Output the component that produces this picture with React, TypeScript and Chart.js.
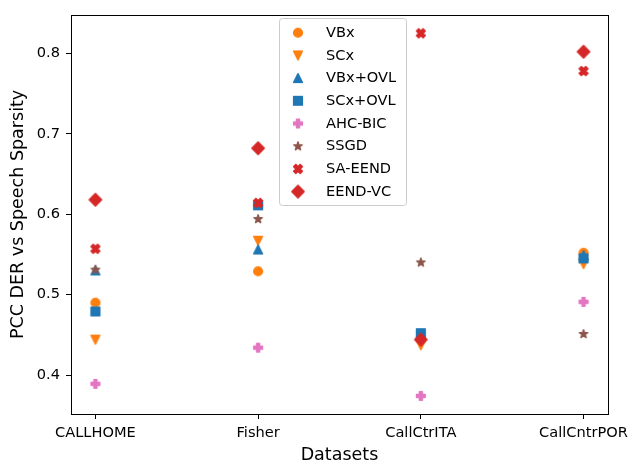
import React, { useEffect, useRef } from "react";
import { Chart, registerables } from "chart.js";

Chart.register(...registerables);

const categories = ["CALLHOME", "Fisher", "CallCtrITA", "CallCntrPOR"];
const yTicks = [0.4, 0.5, 0.6, 0.7, 0.8];

const vbx = [0.49, 0.529, 0.445, 0.552];
const scx = [0.444, 0.567, 0.437, 0.538];
const vbxOvl = [0.53, 0.556, 0.45, 0.549];
const scxOvl = [0.479, 0.611, 0.452, 0.545];
const ahcBic = [0.389, 0.434, 0.374, 0.491];
const ssgd = [0.531, 0.594, 0.54, 0.451];
const saEend = [0.557, 0.614, 0.825, 0.778];
const eendVc = [0.618, 0.682, 0.444, 0.802];

const seriesNames = ["VBx", "SCx", "VBx+OVL", "SCx+OVL", "AHC-BIC", "SSGD", "SA-EEND", "EEND-VC"];
const seriesValues = [vbx, scx, vbxOvl, scxOvl, ahcBic, ssgd, saEend, eendVc];
const seriesColors = ["#ff7f0e", "#ff7f0e", "#1f77b4", "#1f77b4", "#e377c2", "#8c564b", "#d62728", "#d62728"];
const seriesShapes = ["circle", "triDown", "triUp", "square", "plus", "star", "x", "diamond"];

const FONT = "'DejaVu Sans', sans-serif";

function makeMarker(shape: string, color: string): HTMLCanvasElement {
  const size = 20;
  const c = document.createElement("canvas");
  c.width = size;
  c.height = size;
  const ctx = c.getContext("2d")!;
  ctx.translate(size / 2, size / 2);
  const S = 8.75;
  ctx.beginPath();
  const poly = (pts: number[][], k: number) => {
    pts.forEach((p, i) => {
      const x = p[0] * k;
      const y = -p[1] * k;
      if (i === 0) ctx.moveTo(x, y);
      else ctx.lineTo(x, y);
    });
    ctx.closePath();
  };
  if (shape === "circle") {
    ctx.arc(0, 0, S / 2, 0, Math.PI * 2);
  } else if (shape === "triUp") {
    poly([[0, 0.5], [-0.5, -0.5], [0.5, -0.5]], S);
  } else if (shape === "triDown") {
    poly([[0, -0.5], [-0.5, 0.5], [0.5, 0.5]], S);
  } else if (shape === "square") {
    poly([[-0.5, -0.5], [0.5, -0.5], [0.5, 0.5], [-0.5, 0.5]], S);
  } else if (shape === "diamond") {
    const r = 0.7071;
    poly([[0, r], [r, 0], [0, -r], [-r, 0]], S);
  } else if (shape === "plus") {
    poly(
      [[-1, -3], [1, -3], [1, -1], [3, -1], [3, 1], [1, 1], [1, 3], [-1, 3], [-1, 1], [-3, 1], [-3, -1], [-1, -1]],
      S / 6
    );
  } else if (shape === "x") {
    poly(
      [[-1, -2], [0, -1], [1, -2], [2, -1], [1, 0], [2, 1], [1, 2], [0, 1], [-1, 2], [-2, 1], [-1, 0], [-2, -1]],
      S / 4
    );
  } else if (shape === "star") {
    const pts: number[][] = [];
    const ro = 0.5;
    const ri = 0.5 * 0.381966;
    for (let i = 0; i < 10; i++) {
      const a = Math.PI / 2 + (i * Math.PI) / 5;
      const r = i % 2 === 0 ? ro : ri;
      pts.push([r * Math.cos(a), r * Math.sin(a)]);
    }
    poly(pts, S);
  }
  ctx.fillStyle = color;
  ctx.fill();
  ctx.lineWidth = 1.46;
  ctx.lineJoin = "round";
  ctx.strokeStyle = color;
  ctx.stroke();
  return c;
}

export default function App() {
  const ref = useRef<HTMLCanvasElement>(null);

  useEffect(() => {
    document.body.style.margin = "0";
    const markers = seriesShapes.map((s, i) => makeMarker(s, seriesColors[i]));

    const framePlugin = {
      id: "frameLegend",
      afterDraw(chart: any) {
        const { ctx, chartArea: a } = chart;
        ctx.save();
        ctx.strokeStyle = "#000";
        ctx.lineWidth = 1;
        ctx.strokeRect(
          Math.round(a.left) + 0.5,
          Math.round(a.top) + 0.5,
          Math.round(a.right) - Math.round(a.left),
          Math.round(a.bottom) - Math.round(a.top)
        );
        // legend
        const bx = 279.5, by = 18.5, bw = 127, bh = 187, r = 3;
        ctx.beginPath();
        ctx.moveTo(bx + r, by);
        ctx.lineTo(bx + bw - r, by);
        ctx.arcTo(bx + bw, by, bx + bw, by + r, r);
        ctx.lineTo(bx + bw, by + bh - r);
        ctx.arcTo(bx + bw, by + bh, bx + bw - r, by + bh, r);
        ctx.lineTo(bx + r, by + bh);
        ctx.arcTo(bx, by + bh, bx, by + bh - r, r);
        ctx.lineTo(bx, by + r);
        ctx.arcTo(bx, by, bx + r, by, r);
        ctx.closePath();
        ctx.fillStyle = "rgba(255,255,255,0.8)";
        ctx.fill();
        ctx.strokeStyle = "#cccccc";
        ctx.stroke();
        ctx.font = `14.6px ${FONT}`;
        ctx.fillStyle = "#000";
        ctx.textBaseline = "middle";
        ctx.textAlign = "left";
        seriesNames.forEach((name, i) => {
          const ry = 32.7 + i * 22.7;
          ctx.drawImage(markers[i], 298 - 10, ry - 10);
          ctx.fillText(name, 326, ry + 0.5);
        });
        ctx.restore();
      },
    };

    const chart = new Chart(ref.current!, {
      type: "scatter",
      data: {
        datasets: seriesNames.map((name, i) => ({
          label: name,
          data: seriesValues[i].map((v, j) => ({ x: j, y: v })),
          pointStyle: markers[i] as any,
          pointRadius: 5,
          showLine: false,
          order: seriesNames.length - 1 - i,
          backgroundColor: seriesColors[i],
          borderColor: seriesColors[i],
        })),
      },
      options: {
        animation: false,
        responsive: false,
        devicePixelRatio: 1,
        layout: { padding: { top: 10, right: 23, left: 0, bottom: 0 } },
        plugins: { legend: { display: false }, tooltip: { enabled: false } },
        scales: {
          x: {
            type: "linear",
            min: -0.15,
            max: 3.15,
            afterBuildTicks: (s: any) => {
              s.ticks = categories.map((_, i) => ({ value: i }));
            },
            afterFit: (s: any) => {
              s.height = 50;
            },
            ticks: {
              autoSkip: false,
              maxRotation: 0,
              padding: 5,
              color: "#000",
              font: { family: FONT, size: 14.6 },
              callback: (v: any) => categories[Math.round(Number(v))] ?? "",
            },
            grid: { drawOnChartArea: false, drawTicks: true, tickLength: 5, tickColor: "#000", tickWidth: 1 },
            border: { display: false },
            title: {
              display: true,
              text: "Datasets",
              color: "#000",
              font: { family: FONT, size: 17.5, lineHeight: 1 },
              padding: { top: 0, bottom: 0 },
            },
          },
          y: {
            type: "linear",
            min: 0.3515,
            max: 0.848,
            afterBuildTicks: (s: any) => {
              s.ticks = yTicks.map((v) => ({ value: v }));
            },
            afterFit: (s: any) => {
              s.width = 71;
            },
            ticks: {
              padding: 6,
              color: "#000",
              font: { family: FONT, size: 14.6 },
              callback: (v: any) => Number(v).toFixed(1),
            },
            grid: { drawOnChartArea: false, drawTicks: true, tickLength: 5, tickColor: "#000", tickWidth: 1 },
            border: { display: false },
            title: {
              display: true,
              text: "PCC DER vs Speech Sparsity",
              color: "#000",
              font: { family: FONT, size: 17.5 },
              padding: { top: 8, bottom: 0 },
            },
          },
        },
      },
      plugins: [framePlugin],
    });
    return () => chart.destroy();
  }, []);

  return <canvas ref={ref} width={634} height={464} style={{ display: "block" }} />;
}
